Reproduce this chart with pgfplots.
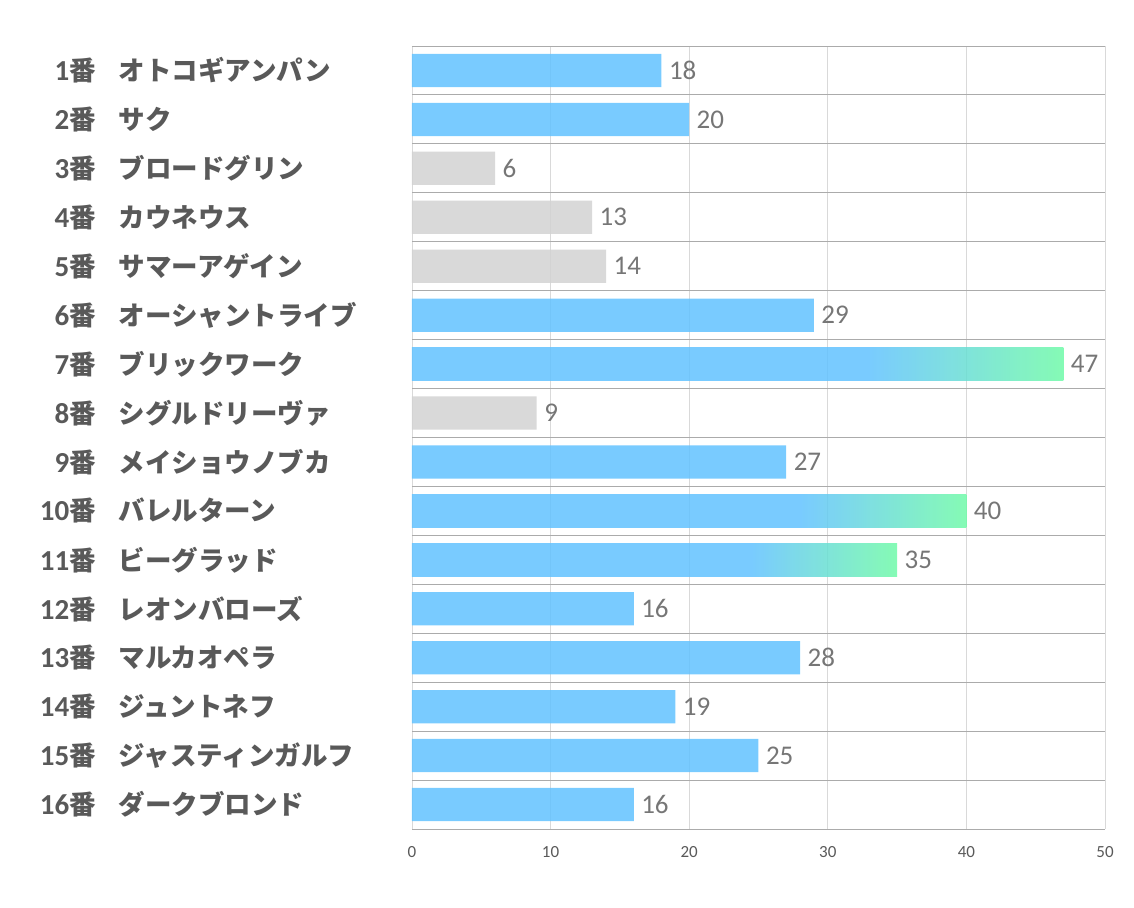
\documentclass[border=0pt]{standalone}
\usepackage{fontspec}
\setmainfont{Carlito}
\newfontfamily\jp{Noto Sans CJK JP}
\usepackage{pgfplots}
\pgfplotsset{compat=1.18}

\definecolor{barblue}{HTML}{62C2FF}
\definecolor{bargrey}{HTML}{D2D2D2}
\definecolor{bargreen}{HTML}{70FAA8}
\definecolor{labgrey}{HTML}{595959}
\definecolor{valgrey}{HTML}{767676}
\definecolor{vgrid}{HTML}{D9D9D9}
\definecolor{hgrid}{HTML}{ABABAB}

% path bbox maps to 25bp..75bp of the shading
\pgfdeclarehorizontalshading{bargrad}{100bp}{color(0bp)=(barblue); color(60bp)=(barblue); color(75bp)=(bargreen); color(100bp)=(bargreen)}

% row label: number + 番, then horse name
\newcommand{\lab}[2]{\makebox[56pt][r]{\bfseries{\fontsize{29}{30}\selectfont #1}{\jp 番}}\hspace{23pt}\makebox[261pt][l]{\jp\bfseries #2}}

\begin{document}
\begin{tikzpicture}
\path[use as bounding box] (-412pt,-78pt) rectangle (722pt,829pt);
\begin{axis}[
    at={(0,0)}, anchor=south west,
    scale only axis,
    width=693pt, height=783pt,
    xmin=0, xmax=50,
    ymin=0.5, ymax=16.5,
    y dir=reverse,
    xbar, bar width=0.68, bar shift=0pt,
    axis line style={draw=none},
    major tick length=0pt, minor tick length=0pt,
    xtick={0,10,...,50},
    xmajorgrids, grid style={vgrid, line width=0.8pt},
    ytick={1,...,16},
    minor ytick={0.5,1.5,...,16.5},
    yminorgrids, minor grid style={hgrid, line width=0.9pt},
    /pgf/number format/assume math mode=true,
    xticklabel style={font=\fontsize{17}{19}\selectfont, text=labgrey, yshift=-14pt},
    yticklabel style={font=\fontsize{26.5}{28}\selectfont, text=labgrey, inner sep=0pt, xshift=-32pt},
    yticklabels={
      \lab{1}{オトコギアンパン},
      \lab{2}{サク},
      \lab{3}{ブロードグリン},
      \lab{4}{カウネウス},
      \lab{5}{サマーアゲイン},
      \lab{6}{オーシャントライブ},
      \lab{7}{ブリックワーク},
      \lab{8}{シグルドリーヴァ},
      \lab{9}{メイショウノブカ},
      \lab{10}{バレルターン},
      \lab{11}{ビーグラッド},
      \lab{12}{レオンバローズ},
      \lab{13}{マルカオペラ},
      \lab{14}{ジュントネフ},
      \lab{15}{ジャスティンガルフ},
      \lab{16}{ダークブロンド}},
    nodes near coords,
    every node near coord/.style={font=\fontsize{27}{29}\selectfont, text=valgrey, anchor=west, xshift=4pt},
]
% blue bars
\addplot[draw=none, fill=barblue, fill opacity=0.85, text opacity=1] coordinates {
    (18,1) (20,2) (29,6) (27,9) (16,12) (28,13) (19,14) (25,15) (16,16)};
% grey bars
\addplot[draw=none, fill=bargrey, fill opacity=0.85, text opacity=1] coordinates {
    (6,3) (13,4) (14,5) (9,8)};
% gradient bars
\addplot[draw=none, shading=bargrad, fill opacity=0.85, text opacity=1] coordinates {(47,7)};
\addplot[draw=none, shading=bargrad, fill opacity=0.85, text opacity=1] coordinates {(40,10)};
\addplot[draw=none, shading=bargrad, fill opacity=0.85, text opacity=1] coordinates {(35,11)};
\end{axis}
\end{tikzpicture}
\end{document}
